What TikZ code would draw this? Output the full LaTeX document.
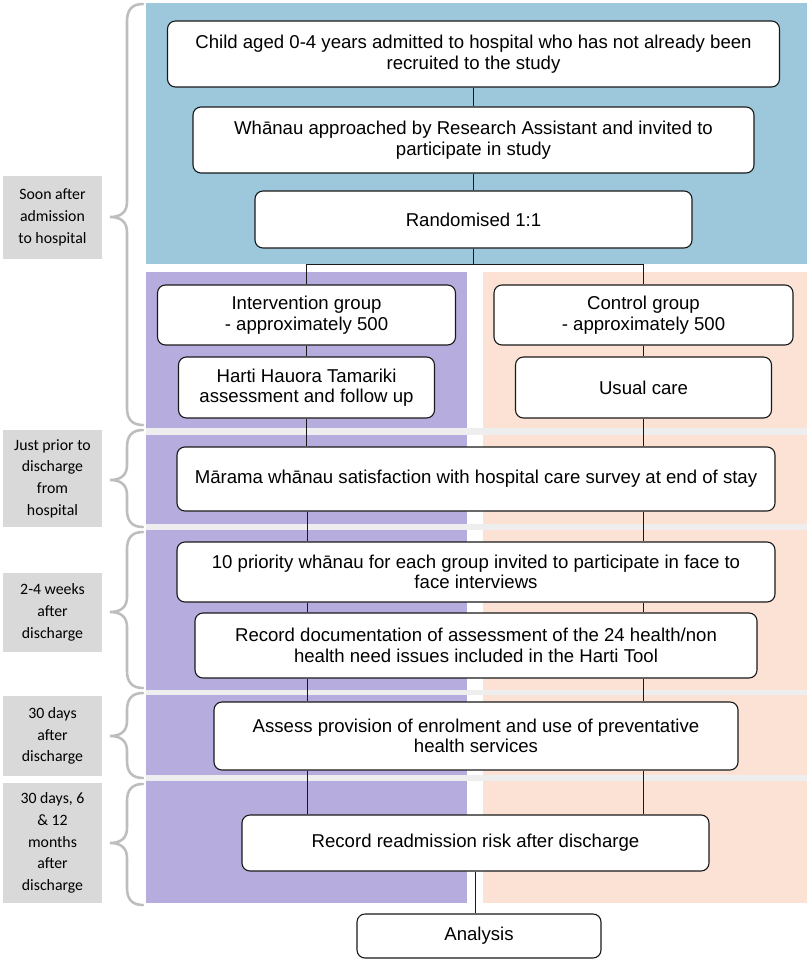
\documentclass[tikz,border=0pt]{standalone}
\usepackage{fontspec}
\setmainfont{Liberation Sans}
\newfontfamily\boxfont{Liberation Sans}
\newfontfamily\lblfont{Carlito}
\definecolor{bgblue}{RGB}{157,200,219}
\definecolor{bgpurple}{RGB}{182,173,222}
\definecolor{bgpeach}{RGB}{252,226,212}
\definecolor{bandgray}{RGB}{238,238,238}
\definecolor{lblgray}{RGB}{217,217,217}
\definecolor{bracegray}{RGB}{190,190,190}
\tikzset{
  stepbox/.style={draw=black!90, line width=1.1pt, fill=white, rounded corners=8pt,
    align=center, inner sep=0pt, font=\boxfont\fontsize{18.6}{20.5}\selectfont},
  lbl/.style={fill=lblgray, align=center, inner sep=0pt, font=\lblfont\fontsize{15.8}{21.7}\selectfont},
  conn/.style={draw=black!90, line width=1pt},
  bracestyle/.style={draw=bracegray, line width=2.6pt, line cap=round}
}
\newcommand\mybrace[3]{%
  \draw[bracestyle] (143,#1) .. controls (132,#1) and (127,#1+6) .. (127,#1+17) -- (127,#3-15)
    .. controls (127,#3-5) and (121,#3) .. (110,#3)
    .. controls (121,#3) and (127,#3+5) .. (127,#3+15) -- (127,#2-17)
    .. controls (127,#2-6) and (132,#2) .. (143,#2);}
\begin{document}
\begin{tikzpicture}[x=1pt,y=-1pt]
\useasboundingbox (0,0) rectangle (810,960);
% regions
\fill[bgblue] (146,3) rectangle (807,264);
\fill[bgpurple] (146,272) rectangle (467,903);
\fill[bgpeach] (483,272) rectangle (807,903);
\foreach \a/\b in {428/435,524/530,690/695,775/781}
  \fill[bandgray] (146,\a) rectangle (807,\b);
% labels
\node[lbl, minimum width=99pt, minimum height=83pt] (l1) at (52.5,217.5) {Soon after\\admission\\to hospital};
\node[lbl, minimum width=99pt, minimum height=97pt] (l2) at (52.5,478.5) {Just prior to\\discharge\\from\\hospital};
\node[lbl, minimum width=99pt, minimum height=79pt] (l3) at (52.5,612.5) {2-4 weeks\\after\\discharge};
\node[lbl, minimum width=99pt, minimum height=80pt] (l4) at (52.5,736) {30 days\\after\\discharge};
\node[lbl, minimum width=99pt, minimum height=120pt] (l5) at (52.5,843) {30 days, 6\\\& 12\\months\\after\\discharge};
% braces
\mybrace{4}{425}{217}
\mybrace{430}{527}{480}
\mybrace{532}{688}{612}
\mybrace{693}{778}{736}
\mybrace{784}{905}{843}
% coordinates for the split and the two arm lines
\coordinate (split) at (474,264);
\coordinate (armL) at (307,0);
\coordinate (armR) at (643.5,0);
% boxes
\node[stepbox, minimum width=612pt, minimum height=66pt] (b1) at (473.5,54) {Child aged 0-4 years admitted to hospital who has not already been\\recruited to the study};
\node[stepbox, minimum width=561pt, minimum height=66pt] (b2) at (473.5,140) {Wh\=anau approached by Research Assistant and invited to\\participate in study};
\node[stepbox, minimum width=437pt, minimum height=57pt] (b3) at (473.5,219.5) {Randomised 1:1};
\node[stepbox, minimum width=298pt, minimum height=60pt] (iv) at (306.5,315) {Intervention group\\- approximately 500};
\node[stepbox, minimum width=299pt, minimum height=60pt] (ct) at (643.5,315) {Control group\\- approximately 500};
\node[stepbox, minimum width=256pt, minimum height=61pt] (ha) at (306.5,387.5) {Harti Hauora Tamariki\\assessment and follow up};
\node[stepbox, minimum width=256pt, minimum height=61pt] (uc) at (643.5,387.5) {Usual care};
\node[stepbox, minimum width=598pt, minimum height=64pt] (ma) at (476,479) {M\=arama wh\=anau satisfaction with hospital care survey at end of stay};
\node[stepbox, minimum width=598pt, minimum height=60pt] (pr) at (476,572) {10 priority wh\=anau for each group invited to participate in face to\\face interviews};
\node[stepbox, minimum width=562pt, minimum height=65pt] (rd) at (476,645.5) {Record documentation of assessment of the 24 health/non\\health need issues included in the Harti Tool};
\node[stepbox, minimum width=524pt, minimum height=68pt] (as) at (476,736) {Assess provision of enrolment and use of preventative\\health services};
\node[stepbox, minimum width=467pt, minimum height=56pt] (rr) at (475.5,843) {Record readmission risk after discharge};
\node[stepbox, minimum width=244pt, minimum height=44pt] (an) at (479,936) {Analysis};
% connectors
\draw[conn] (b1.south) -- (b1.south |- b2.north);
\draw[conn] (b2.south) -- (b2.south |- b3.north);
\draw[conn] (b3.south) -- (b3.south |- split);
\draw[conn] (iv.north) -- (iv.north |- split) -- (ct.north |- split) -- (ct.north);
\draw[conn] (iv.south) -- (iv.south |- ha.north);
\draw[conn] (ct.south) -- (ct.south |- uc.north);
\draw[conn] (ha.south) -- (ha.south |- ma.north);
\draw[conn] (uc.south) -- (uc.south |- ma.north);
\foreach \u/\l in {ma/pr,pr/rd,rd/as,as/rr}{
  \draw[conn] (armL |- \u.south) -- (armL |- \l.north);
  \draw[conn] (armR |- \u.south) -- (armR |- \l.north);
}
\draw[conn] (rr.south) -- (rr.south |- an.north);
\end{tikzpicture}
\end{document}
